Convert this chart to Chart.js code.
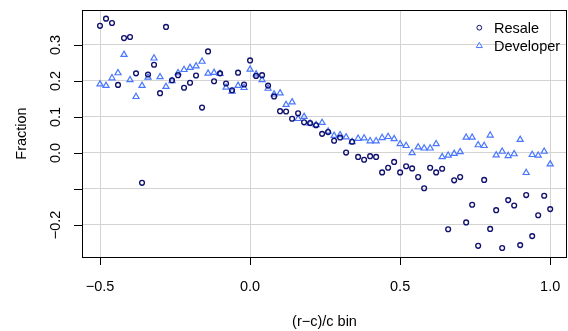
<!DOCTYPE html>
<html>
<head>
<meta charset="utf-8">
<script src="https://cdn.jsdelivr.net/npm/chart.js@4/dist/chart.umd.min.js"></script>
<style>
  html, body { margin: 0; padding: 0; background: #fff; }
  canvas { display: block; }
</style>
</head>
<body>
<canvas id="c" width="568" height="331"></canvas>
<script>
// Bin centres of (r-c)/c
const bins = [
  -0.50, -0.48, -0.46, -0.44, -0.42, -0.40, -0.38, -0.36, -0.34, -0.32,
  -0.30, -0.28, -0.26, -0.24, -0.22, -0.20, -0.18, -0.16, -0.14, -0.12,
  -0.10, -0.08, -0.06, -0.04, -0.02, 0.00, 0.02, 0.04, 0.06, 0.08,
  0.10, 0.12, 0.14, 0.16, 0.18, 0.20, 0.22, 0.24, 0.26, 0.28,
  0.30, 0.32, 0.34, 0.36, 0.38, 0.40, 0.42, 0.44, 0.46, 0.48,
  0.50, 0.52, 0.54, 0.56, 0.58, 0.60, 0.62, 0.64, 0.66, 0.68,
  0.70, 0.72, 0.74, 0.76, 0.78, 0.80, 0.82, 0.84, 0.86, 0.88,
  0.90, 0.92, 0.94, 0.96, 0.98, 1.00
];

// Fraction per bin, resale transactions
const resale = [
  0.353, 0.373, 0.361, 0.189, 0.319, 0.322, 0.221, -0.083, 0.218, 0.245,
  0.166, 0.350, 0.202, 0.216, 0.181, 0.195, 0.215, 0.126, 0.282, 0.199,
  0.221, 0.193, 0.174, 0.223, 0.190, 0.257, 0.214, 0.216, 0.187, 0.157,
  0.116, 0.115, 0.095, 0.110, 0.085, 0.083, 0.077, 0.053, 0.058, 0.034,
  0.043, 0.001, 0.031, -0.011, -0.019, -0.009, -0.011, -0.054, -0.041, -0.025,
  -0.054, -0.037, -0.043, -0.067, -0.098, -0.041, -0.054, -0.044, -0.212, -0.076,
  -0.067, -0.193, -0.144, -0.258, -0.075, -0.211, -0.159, -0.264, -0.131, -0.146,
  -0.256, -0.117, -0.231, -0.173, -0.119, -0.156
];

// Fraction per bin, developer sales
const developer = [
  0.191, 0.187, 0.208, 0.222, 0.273, 0.203, 0.156, 0.187, 0.210, 0.263,
  0.211, 0.184, 0.200, 0.222, 0.231, 0.237, 0.241, 0.254, 0.221, 0.223,
  0.220, 0.182, 0.171, 0.187, 0.181, 0.232, 0.219, 0.203, 0.179, 0.163,
  0.166, 0.134, 0.141, 0.095, 0.101, 0.082, 0.078, 0.084, 0.060, 0.048,
  0.050, 0.044, 0.031, 0.040, 0.041, 0.033, 0.033, 0.042, 0.045, 0.039,
  0.025, 0.020, 0.000, 0.016, 0.013, 0.013, 0.025, -0.011, -0.007, -0.002,
  0.003, 0.043, 0.043, 0.022, 0.020, 0.049, -0.006, 0.004, -0.008, -0.003,
  0.037, -0.055, -0.005, -0.007, 0.004, -0.031
];

const xTicks = [-0.5, 0.0, 0.5, 1.0];
const xTickLabels = ['\u22120.5', '0.0', '0.5', '1.0'];
const yTicks = [-0.2, -0.1, 0.0, 0.1, 0.2, 0.3];
const yTickLabels = ['\u22120.2', '', '0.0', '0.1', '0.2', '0.3'];
const seriesNames = ['Resale', 'Developer'];
const xTitle = '(r\u2212c)/c bin';
const yTitle = 'Fraction';

const NAVY = '#10106e';
const BLUE = '#4876ff';
const FONT = '14.5px "Liberation Sans", Arial, Helvetica, sans-serif';

const circleStyle = { pointStyle: 'circle', radius: 2.4, borderWidth: 1.35, rotation: 0 };
const triangleStyle = { pointStyle: 'triangle', radius: 3.5, borderWidth: 1.2, rotation: 0 };

const toPoints = ys => bins.map((b, i) => ({ x: b, y: ys[i] }));

// Frame, axis ticks, labels, titles and key
const decorations = {
  id: 'decorations',
  afterDraw(chart) {
    const { ctx, chartArea: a, scales: { x, y } } = chart;
    ctx.save();

    ctx.strokeStyle = '#000';
    ctx.lineWidth = 1;
    ctx.strokeRect(a.left + 0.5, a.top + 0.5, a.right - a.left - 1, a.bottom - a.top);

    ctx.beginPath();
    xTicks.forEach(v => {
      const px = Math.round(x.getPixelForValue(v)) + 0.5;
      ctx.moveTo(px, a.bottom);
      ctx.lineTo(px, a.bottom + 8);
    });
    yTicks.forEach(v => {
      const py = Math.round(y.getPixelForValue(v)) + 0.5;
      ctx.moveTo(a.left - 8, py);
      ctx.lineTo(a.left, py);
    });
    ctx.stroke();

    ctx.fillStyle = '#000';
    ctx.font = FONT;
    ctx.textBaseline = 'alphabetic';
    ctx.textAlign = 'center';
    xTicks.forEach((v, i) => {
      ctx.fillText(xTickLabels[i], x.getPixelForValue(v), 290.5);
    });
    ctx.fillText(xTitle, (a.left + a.right) / 2, 325.5);

    yTicks.forEach((v, i) => {
      if (!yTickLabels[i]) return;
      ctx.save();
      ctx.translate(59.5, y.getPixelForValue(v));
      ctx.rotate(-Math.PI / 2);
      ctx.fillText(yTickLabels[i], 0, 0);
      ctx.restore();
    });
    ctx.save();
    ctx.translate(25.7, (a.top + a.bottom) / 2);
    ctx.rotate(-Math.PI / 2);
    ctx.fillText(yTitle, 0, 0);
    ctx.restore();

    // key
    const styles = [circleStyle, triangleStyle];
    const colors = [NAVY, BLUE];
    const rows = [{ my: 27.7, ty: 33.3 }, { my: 45.8, ty: 50.7 }];
    ctx.textAlign = 'left';
    seriesNames.forEach((name, i) => {
      ctx.strokeStyle = colors[i];
      ctx.fillStyle = 'rgba(0,0,0,0)';
      Chart.helpers.drawPoint(ctx, styles[i], 479.3, rows[i].my);
      ctx.fillStyle = '#000';
      ctx.fillText(name, 494, rows[i].ty);
    });

    ctx.restore();
  }
};

new Chart(document.getElementById('c'), {
  type: 'scatter',
  data: {
    datasets: [
      {
        label: seriesNames[0],
        data: toPoints(resale),
        borderColor: NAVY,
        backgroundColor: 'rgba(0,0,0,0)',
        pointStyle: circleStyle.pointStyle,
        pointRadius: circleStyle.radius,
        pointBorderWidth: circleStyle.borderWidth
      },
      {
        label: seriesNames[1],
        data: toPoints(developer),
        borderColor: BLUE,
        backgroundColor: 'rgba(0,0,0,0)',
        pointStyle: triangleStyle.pointStyle,
        pointRadius: triangleStyle.radius,
        pointBorderWidth: triangleStyle.borderWidth
      }
    ]
  },
  options: {
    responsive: false,
    animation: false,
    devicePixelRatio: 1,
    layout: { autoPadding: false, padding: { top: 10, right: 1, left: 0, bottom: 0 } },
    plugins: {
      legend: { display: false },
      tooltip: { enabled: false }
    },
    scales: {
      x: {
        type: 'linear',
        min: -0.56,
        max: 1.056,
        afterBuildTicks: s => { s.ticks = xTicks.map(v => ({ value: v })); },
        afterFit: s => { s.height = 74; },
        ticks: { display: false },
        grid: { color: '#d3d3d3', lineWidth: 1, drawTicks: false },
        border: { display: false }
      },
      y: {
        type: 'linear',
        min: -0.289,
        max: 0.397,
        afterBuildTicks: s => { s.ticks = yTicks.map(v => ({ value: v })); },
        afterFit: s => { s.width = 82; },
        ticks: { display: false },
        grid: { color: '#d3d3d3', lineWidth: 1, drawTicks: false },
        border: { display: false }
      }
    }
  },
  plugins: [decorations]
});
</script>
</body>
</html>
